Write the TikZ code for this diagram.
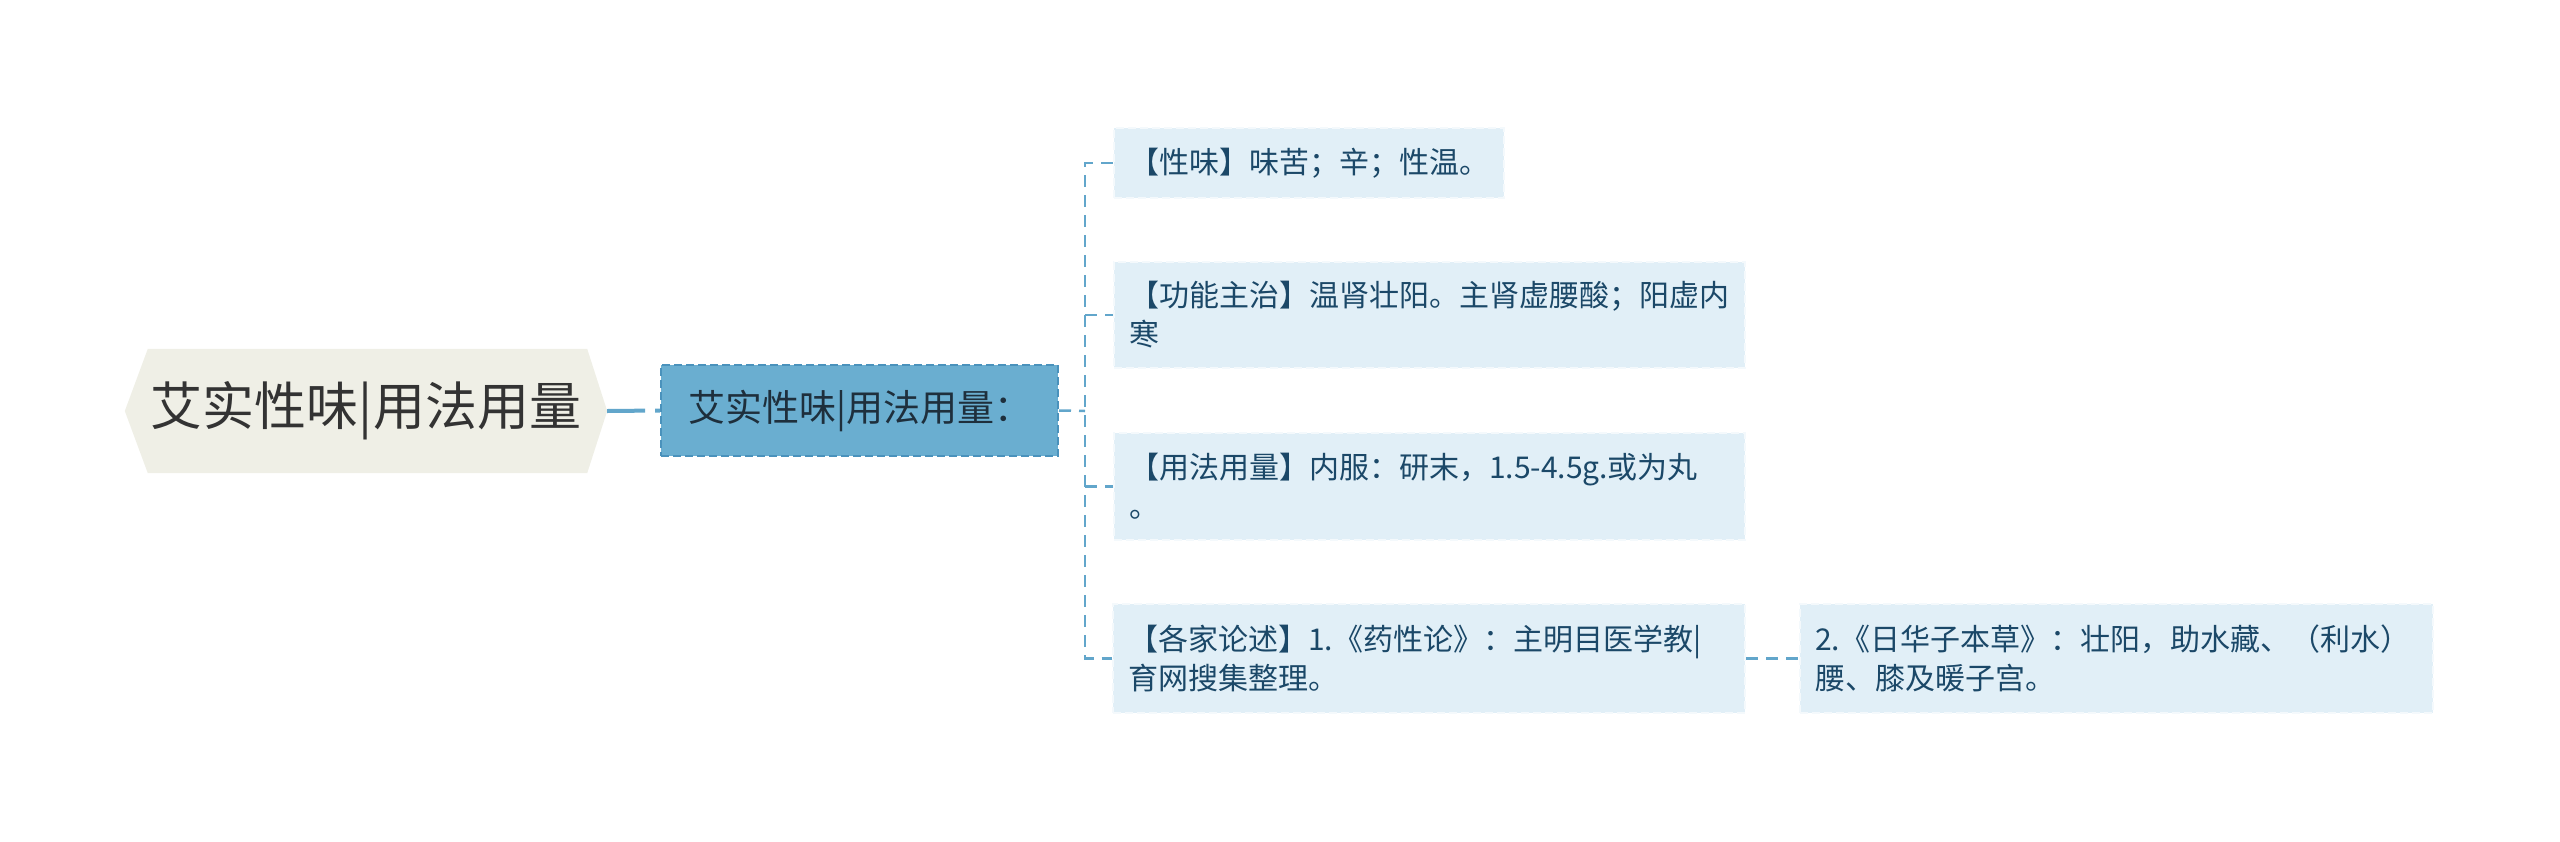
\documentclass[tikz,border=0pt]{standalone}
\usepackage{fontspec}
\setmainfont{Noto Sans CJK SC}
\usetikzlibrary{calc}
\pgfdeclarelayer{background}
\pgfsetlayers{background,main}
\definecolor{rootfill}{HTML}{EFEFE6}
\definecolor{roottext}{HTML}{333333}
\definecolor{bluefill}{HTML}{6AAED0}
\definecolor{blueedge}{HTML}{4A92BC}
\definecolor{bluetext}{HTML}{1E2F3C}
\definecolor{leaffill}{HTML}{E1EFF7}
\definecolor{leafedge}{HTML}{F4F9FC}
\definecolor{leaftext}{HTML}{1B4868}
\definecolor{conncolor}{HTML}{62A6CB}
\tikzset{
  leafbox/.style={fill=leaffill, draw=leafedge, line width=2pt, dash pattern=on 8pt off 4pt,
    inner xsep=15pt, inner ysep=0pt, align=left, text=leaftext,
    font=\fontsize{30}{39}\selectfont, anchor=center},
  conn/.style={draw=conncolor, line width=2.5pt, dash pattern=on 12pt off 8pt},
}
\begin{document}
\begin{tikzpicture}[x=1pt,y=-1pt]
\useasboundingbox (0,0) rectangle (2560,841);
% root
\node[minimum width=482pt, minimum height=124pt, inner sep=0pt, text=roottext,
  font=\fontsize{52}{60}\selectfont] (root) at (366,411) {艾实性味|用法用量};
\begin{pgfonlayer}{background}
\fill[rootfill] (root.west) -- ([xshift=23pt]root.north west) -- ([xshift=-20pt]root.north east)
  -- (root.east) -- ([xshift=-20pt]root.south east) -- ([xshift=23pt]root.south west) -- cycle;
\end{pgfonlayer}
% blue
\node[fill=bluefill, draw=blueedge, line width=2pt, dash pattern=on 8pt off 4pt,
  minimum width=397pt, minimum height=91pt, inner sep=0pt, text=bluetext,
  font=\fontsize{37}{44}\selectfont] (blue) at (859.5,410.5) {艾实性味|用法用量：};
% leaves
\node[leafbox, text width=360pt, minimum height=70pt] (l1) at (1309,163) {【性味】味苦；辛；性温。};
\node[leafbox, text width=601pt, minimum height=106pt] (l2) at (1429.5,315) {【功能主治】温肾壮阳。主肾虚腰酸；阳虚内\\寒};
\node[leafbox, text width=601pt, minimum height=107pt] (l3) at (1429.5,486.5) {【用法用量】内服：研末，1.5-4.5g.或为丸\\。};
\node[leafbox, text width=602pt, minimum height=109pt] (l4) at (1429,658.5) {【各家论述】1.《药性论》：主明目医学教|\\育网搜集整理。};
\node[leafbox, text width=603pt, minimum height=109pt] (l5) at (2116.5,658.5) {2.《日华子本草》：壮阳，助水藏、（利水）\\腰、膝及暖子宫。};
% connectors
\coordinate (t) at (1085,411);
\draw[draw=conncolor, line width=4pt, dash pattern=on 38pt off 10pt on 40pt off 0pt] (root.east) -- (blue.west);
\draw[conn] (blue.east) -- (t);
\draw[conn] (l1.west) -- (l1.west -| t) -- (l4.west -| t) -- (l4.west);
\draw[conn] (l2.west -| t) -- (l2.west);
\draw[conn] (l3.west -| t) -- (l3.west);
\draw[conn] (l4.east) -- (l5.west);
\end{tikzpicture}
\end{document}
